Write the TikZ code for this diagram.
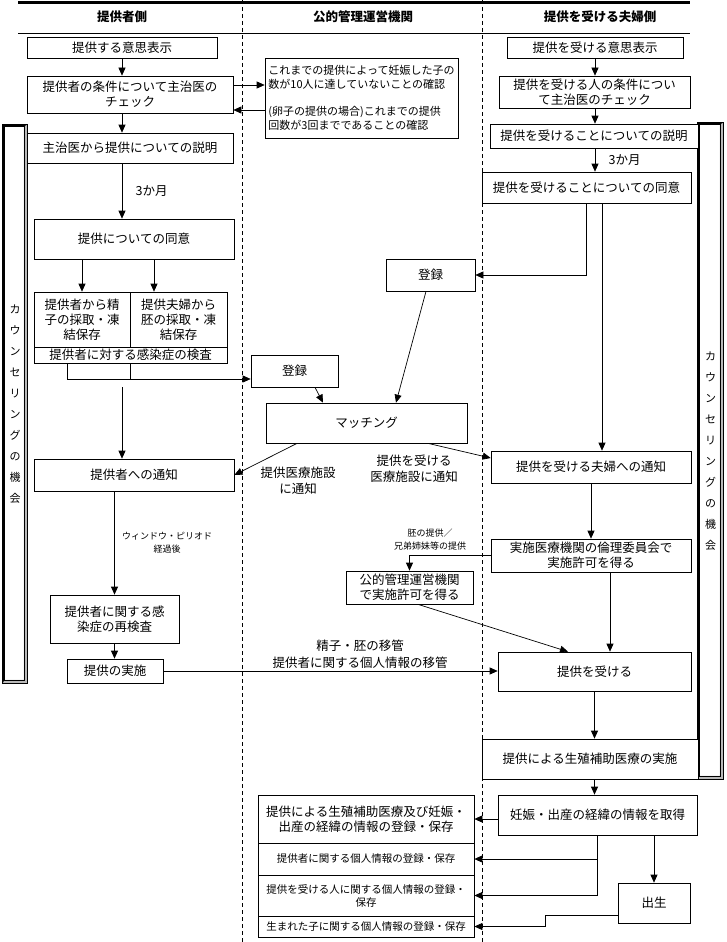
\documentclass[tikz,border=0pt]{standalone}
\usepackage{fontspec}
\setmainfont{Noto Sans CJK JP}
\usetikzlibrary{positioning, arrows.meta}

\tikzset{
  box/.style = {draw, fill=white, align=center, inner sep=1pt, font=\fontsize{12.5}{15}\selectfont},
  wh/.style 2 args = {minimum width=#1pt, minimum height=#2pt},
  midtxt/.style = {align=center, font=\fontsize{12.5}{16}\selectfont},
  smalltxt/.style = {align=center, font=\fontsize{9}{13}\selectfont},
  head/.style = {font=\bfseries\fontsize{12.5}{14}\selectfont},
  counsel/.style = {draw, fill=white, align=center, inner sep=0pt, font=\fontsize{11}{21}\selectfont},
  lane/.style = {dash pattern=on 4pt off 3pt, line width=0.6pt},
}

\begin{document}
\begin{tikzpicture}[x=1pt, y=1pt, >={Triangle[width=7pt,length=8pt]}, line width=0.7pt]
  \useasboundingbox (0,0) rectangle (726,-942);

  % lanes and header
  \draw[lane] (242,0) -- (242,-942);
  \draw[lane] (482,0) -- (482,-942);
  \draw[line width=3pt] (18,-3) -- (690,-3);
  \draw (18,-33) -- (690,-33);
  \node[head] (hDonor) at (122,-17) {提供者側};
  \node[head] (hAdmin) at (363,-17) {公的管理運営機関};
  \node[head] (hRecip) at (600,-17) {提供を受ける夫婦側};

  % counselling frames
  \node[counsel, wh={24}{558}] (lCoun) at (15,-404) {カ\\ウ\\ン\\セ\\リ\\ン\\グ\\の\\機\\会};
  \node[counsel, wh={25}{656}] (rCoun) at (710.5,-451) {カ\\ウ\\ン\\セ\\リ\\ン\\グ\\の\\機\\会};
  \foreach \cb in {lCoun, rCoun} {
    \fill[gray!55] (\cb.north east) -- (\cb.south east) -- (\cb.south west)
      -- ([shift={(2,3.5)}]\cb.south west) -- ([shift={(-3.5,3.5)}]\cb.south east)
      -- ([shift={(-3.5,-2)}]\cb.north east) -- cycle;
    \draw[line width=0.5pt] ([shift={(2,-2)}]\cb.north west) rectangle ([shift={(-3.5,3.5)}]\cb.south east);
    \draw (\cb.north west) rectangle (\cb.south east);
  }

  % donor side
  \node[box, wh={190}{21}] (lWill) at (122,-47.5) {提供する意思表示};
  \node[box, wh={206}{37}] (lCheck) at (130,-94.5) {提供者の条件について主治医の\\チェック};
  \node[box, wh={206}{30}] (lExpl) at (130,-148) {主治医から提供についての説明};
  \node[box, wh={200}{40}] (lAgree) at (134,-239) {提供についての同意};
  \node[box, wh={96}{55}] (lSperm) at (82,-319.5) {提供者から精\\子の採取・凍\\結保存};
  \node[box, wh={97}{55}] (lEmbryo) at (178.5,-319.5) {提供夫婦から\\胚の採取・凍\\結保存};
  \node[box, wh={193}{16}, inner sep=0pt] (lInfect) at (130.5,-355) {提供者に対する感染症の検査};
  \node[box, wh={200}{32}] (lNotify) at (134,-475) {提供者への通知};
  \node[box, wh={129}{48}] (lRetest) at (114.5,-619) {提供者に関する感\\染症の再検査};
  \node[box, wh={96}{24}] (lDo) at (115,-671) {提供の実施};

  % administration
  \node[box, wh={193}{80}, align=left, inner sep=2pt, font=\fontsize{11}{14.5}\selectfont] (mCheck) at (361.5,-98)
    {これまでの提供によって妊娠した子の\\数が10人に達していないことの確認\\[12pt](卵子の提供の場合)これまでの提供\\回数が3回までであることの確認};
  \node[box, wh={87}{32}] (mReg1) at (294.5,-371) {登録};
  \node[box, wh={89}{32}] (mReg2) at (430.5,-275) {登録};
  \node[box, wh={201}{40}] (mMatch) at (366.5,-423) {マッチング};
  \node[box, wh={127}{33}, inner sep=0pt] (mPermit) at (409.5,-587.5) {公的管理運営機関\\で実施許可を得る};
  \node[box, wh={216}{48}] (rReg1) at (366,-819) {提供による生殖補助医療及び妊娠・\\出産の経緯の情報の登録・保存};
  \node[box, wh={216}{32}, font=\fontsize{10.5}{13}\selectfont] (rReg2) at (366,-859) {提供者に関する個人情報の登録・保存};
  \node[box, wh={216}{41}, font=\fontsize{10.5}{13}\selectfont] (rReg3) at (366,-895.5) {提供を受ける人に関する個人情報の登録・\\保存};
  \node[box, wh={216}{21}, font=\fontsize{10.5}{13}\selectfont] (rReg4) at (366,-926.5) {生まれた子に関する個人情報の登録・保存};

  % recipient side
  \node[box, wh={176}{21}] (rWill) at (595,-47.5) {提供を受ける意思表示};
  \node[box, wh={191}{32}, inner sep=0pt] (rCheck) at (594.5,-92) {提供を受ける人の条件につい\\て主治医のチェック};
  \node[box, wh={208}{24}] (rExpl) at (594,-136) {提供を受けることについての説明};
  \node[box, wh={209}{31}] (rAgree) at (586.5,-187.5) {提供を受けることについての同意};
  \node[box, wh={200}{32}] (rNotify) at (591,-467) {提供を受ける夫婦への通知};
  \node[box, wh={200}{33}, inner sep=0pt] (rEthic) at (591,-555.5) {実施医療機関の倫理委員会で\\実施許可を得る};
  \node[box, wh={193}{39}] (rReceive) at (594.5,-671.5) {提供を受ける};
  \node[box, wh={216}{40}] (rART) at (590,-759) {提供による生殖補助医療の実施};
  \node[box, wh={199}{40}] (rInfo) at (597.5,-815) {妊娠・出産の経緯の情報を取得};
  \node[box, wh={72}{40}] (rBirth) at (654,-903) {出生};

  % donor flow
  \draw[->] (lWill) -- (lWill |- lCheck.north);
  \draw[->] (lCheck.south -| lWill) -- (lExpl.north -| lWill);
  \draw[->] (lExpl.south -| lWill) -- (lAgree.north -| lWill) node[midtxt, midway, right=10pt] {3か月};
  \draw[->] (lAgree.south -| lSperm) -- (lSperm);
  \coordinate (eTop) at ([xshift=-24.5pt]lEmbryo.north);
  \draw[->] (eTop |- lAgree.south) -- (eTop);
  \coordinate (lJoin) at ([yshift=-8pt]mReg1.west);
  \draw[->] ([xshift=-63.5pt]lInfect.south) |- (lJoin);
  \draw (lInfect.south) -- (lInfect.south |- lJoin);
  \draw[->] (lWill |- mReg1.south) -- (lWill |- lNotify.north);
  \draw[->] (lNotify.south -| lRetest) -- (lRetest);
  \node[smalltxt] (tWindow) at (167,-543) {ウィンドウ・ピリオド\\経過後};
  \draw[->] (lRetest) -- (lRetest |- lDo.north);
  \draw[->] (lDo) -- (lDo -| rReceive.west);
  \node[midtxt, font=\fontsize{12.5}{17}\selectfont] (tTransfer) at (360,-654.5) {精子・胚の移管\\提供者に関する個人情報の移管};

  % checks by the administration
  \coordinate (aOut) at ([yshift=9.5pt]lCheck.east);
  \coordinate (aBack) at ([yshift=-15.5pt]lCheck.east);
  \draw[->] (aOut) -- (aOut -| mCheck.west);
  \draw[->] (aBack -| mCheck.west) -- (aBack);

  % registration and matching
  \draw[->] ([xshift=20.5pt]mReg1.south) -- ([xshift=-43.5pt]mMatch.north);
  \draw[->] ([xshift=-4.5pt]mReg2.south) -- ([xshift=29.5pt]mMatch.north);
  \draw[->] ([xshift=-69.5pt]mMatch.south) -- (lNotify.east);
  \node[midtxt] (tDonorFac) at (298,-481) {提供医療施設\\に通知};
  \draw[->] ([xshift=61.5pt]mMatch.south) -- ([yshift=9pt]rNotify.west);
  \node[midtxt] (tRecipFac) at (414,-468.5) {提供を受ける\\医療施設に通知};

  % recipient flow
  \draw[->] (rWill) -- (rWill |- rCheck.north);
  \draw[->] (rCheck.south -| rWill) -- (rExpl.north -| rWill);
  \draw[->] (rExpl.south -| rWill) -- (rAgree.north -| rWill) node[midtxt, midway, right=10pt] {3か月};
  \draw[->] (rAgree.south) |- (mReg2.east);
  \coordinate (rDown) at ([xshift=15.5pt]rAgree.south);
  \draw[->] (rDown) -- (rDown |- rNotify.north);
  \draw[->] (rNotify) -- (rNotify |- rEthic.north);
  \draw[->] (rEthic.west) -| (mPermit.north);
  \node[smalltxt] (tEmbryo) at (430,-539.5) {胚の提供／\\兄弟姉妹等の提供};
  \coordinate (eDown) at ([xshift=19pt]rEthic.south);
  \draw[->] (eDown) -- (eDown |- rReceive.north);
  \draw[->] ([xshift=8.5pt]mPermit.south) -- ([xshift=-26.5pt]rReceive.north);
  \draw[->] (rReceive) -- (rReceive |- rART.north);
  \draw[->] (rART.south -| rReceive) -- (rInfo.north -| rReceive);

  % records
  \draw[->] (rInfo.west |- rReg1) -- (rReg1.east);
  \draw[->] (rInfo.south) |- (rReg3.east);
  \draw[->] (rInfo.south |- rReg2) -- (rReg2.east);
  \draw[->] (rBirth.north |- rInfo.south) -- (rBirth.north);
  \draw[->] ([yshift=-12pt]rBirth.west) -- ++(-72,0) |- (rReg4.east);
\end{tikzpicture}
\end{document}
